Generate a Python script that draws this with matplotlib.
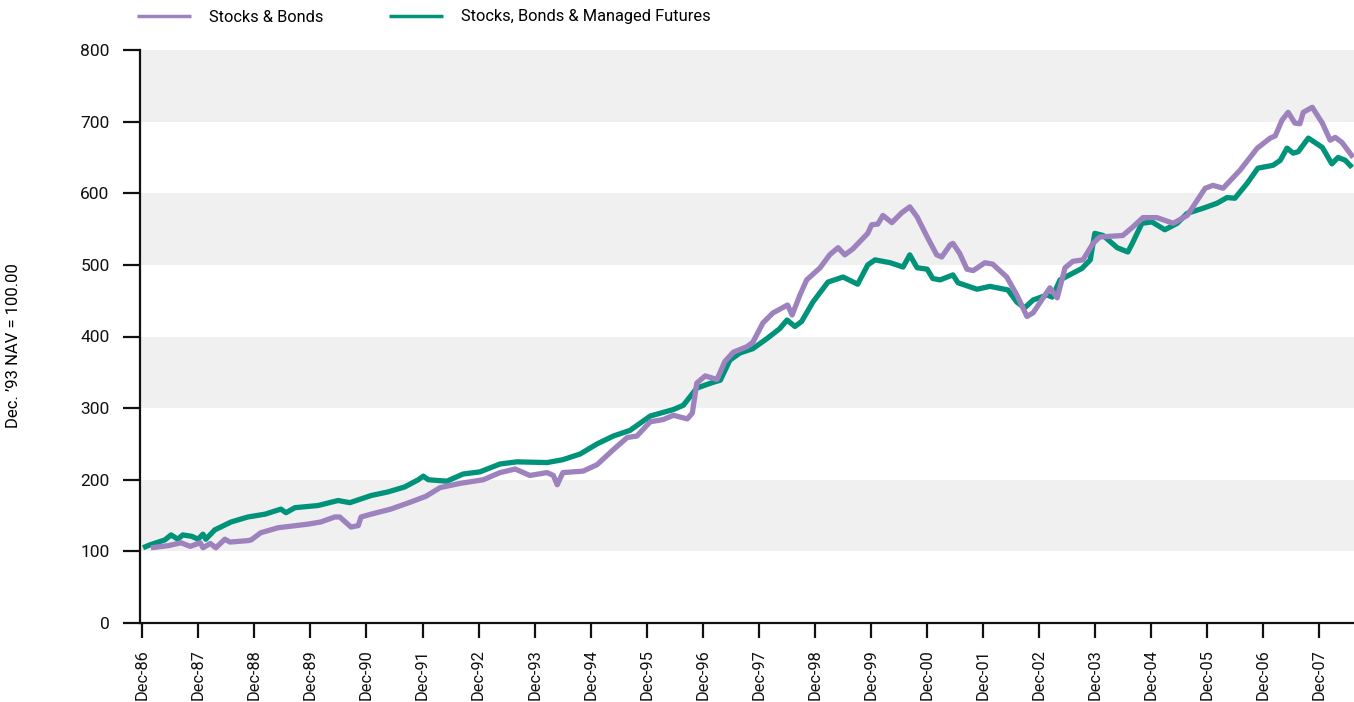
import matplotlib
matplotlib.use("Agg")
import matplotlib.pyplot as plt

# ---- data (decimal years, NAV values) ----
sb_years = [1987.07, 1987.38, 1987.61, 1987.77, 1987.95, 1988.00, 1988.13, 1988.23, 1988.39, 1988.48,
            1988.80, 1988.86, 1989.03, 1989.34, 1989.87, 1990.10, 1990.35, 1990.44, 1990.64, 1990.77,
            1990.82, 1991.00, 1991.35, 1991.71, 1991.98, 1992.23, 1992.59, 1993.00, 1993.30, 1993.57,
            1993.83, 1994.14, 1994.25, 1994.32, 1994.42, 1994.78, 1995.03, 1995.32, 1995.57, 1995.74,
            1995.98, 1996.21, 1996.39, 1996.64, 1996.73, 1996.81, 1996.96, 1997.17, 1997.31, 1997.46,
            1997.71, 1997.81, 1997.99, 1998.17, 1998.43, 1998.51, 1998.65, 1998.77, 1999.01, 1999.18,
            1999.33, 1999.45, 1999.59, 1999.86, 1999.93, 2000.04, 2000.13, 2000.29, 2000.47, 2000.61,
            2000.74, 2000.92, 2001.09, 2001.18, 2001.33, 2001.38, 2001.50, 2001.63, 2001.74, 2001.95,
            2002.09, 2002.34, 2002.52, 2002.70, 2002.81, 2003.11, 2003.24, 2003.38, 2003.52, 2003.70,
            2003.88, 2004.00, 2004.41, 2004.59, 2004.77, 2005.02, 2005.31, 2005.56, 2005.88, 2006.02,
            2006.20, 2006.50, 2006.81, 2007.04, 2007.13, 2007.25, 2007.36, 2007.48, 2007.57, 2007.63,
            2007.79, 2007.97, 2008.11, 2008.20, 2008.32, 2008.52]
sb_values = [105, 108, 112, 107, 112, 105, 111, 105, 117, 113,
             115, 116, 126, 133, 138, 141, 148, 148, 134, 136,
             148, 152, 159, 169, 177, 189, 195, 200, 210, 215,
             206, 210, 206, 193, 210, 212, 221, 242, 259, 261,
             281, 284, 290, 285, 293, 335, 345, 340, 365, 378,
             386, 392, 419, 433, 444, 430, 458, 479, 496, 514,
             524, 514, 522, 544, 556, 557, 569, 559, 573, 581,
             567, 539, 514, 511, 528, 530, 516, 494, 492, 503,
             501, 483, 458, 428, 433, 468, 454, 496, 505, 507,
             530, 539, 541, 553, 566, 566, 558, 569, 607, 611,
             607, 632, 663, 677, 680, 702, 713, 698, 697, 713,
             720, 698, 674, 678, 671, 650]

sbmf_years = [1986.93, 1987.05, 1987.32, 1987.43, 1987.55, 1987.64, 1987.80, 1987.91, 1988.00, 1988.05,
              1988.21, 1988.50, 1988.80, 1989.11, 1989.39, 1989.48, 1989.64, 1990.05, 1990.41, 1990.62,
              1991.00, 1991.30, 1991.60, 1991.84, 1991.93, 1992.02, 1992.35, 1992.64, 1992.94, 1993.30,
              1993.60, 1994.14, 1994.42, 1994.73, 1995.03, 1995.32, 1995.62, 1995.98, 1996.39, 1996.57,
              1996.81, 1997.10, 1997.23, 1997.40, 1997.58, 1997.81, 1998.06, 1998.29, 1998.42, 1998.56,
              1998.68, 1998.88, 1999.15, 1999.42, 1999.68, 1999.86, 1999.99, 2000.26, 2000.49, 2000.61,
              2000.74, 2000.92, 2001.02, 2001.15, 2001.38, 2001.47, 2001.81, 2002.04, 2002.36, 2002.52,
              2002.66, 2002.81, 2003.06, 2003.15, 2003.29, 2003.68, 2003.83, 2003.91, 2004.06, 2004.31,
              2004.50, 2004.58, 2004.75, 2004.93, 2005.16, 2005.38, 2005.56, 2005.84, 2006.09, 2006.27,
              2006.41, 2006.63, 2006.82, 2007.09, 2007.22, 2007.34, 2007.45, 2007.54, 2007.72, 2007.97,
              2008.14, 2008.25, 2008.38, 2008.50]
sbmf_values = [105, 109, 116, 123, 117, 123, 121, 117, 124, 117,
               130, 141, 148, 152, 159, 154, 161, 164, 171, 168,
               178, 183, 190, 200, 205, 200, 198, 208, 211, 222,
               225, 224, 228, 236, 250, 261, 269, 289, 298, 304,
               328, 336, 339, 367, 377, 383, 397, 411, 423, 414,
               421, 448, 476, 483, 473, 500, 507, 503, 497, 514,
               496, 494, 481, 479, 486, 475, 466, 470, 465, 448,
               440, 451, 458, 455, 479, 495, 507, 544, 541, 524,
               518, 530, 558, 560, 549, 558, 572, 579, 586, 594,
               593, 614, 635, 639, 646, 663, 656, 658, 677, 664,
               641, 650, 646, 636]

series_names = ["Stocks & Bonds", "Stocks, Bonds & Managed Futures"]
tick_labels = ["Dec-86", "Dec-87", "Dec-88", "Dec-89", "Dec-90", "Dec-91", "Dec-92", "Dec-93",
               "Dec-94", "Dec-95", "Dec-96", "Dec-97", "Dec-98", "Dec-99", "Dec-00", "Dec-01",
               "Dec-02", "Dec-03", "Dec-04", "Dec-05", "Dec-06", "Dec-07"]
y_ticks = [0, 100, 200, 300, 400, 500, 600, 700, 800]
y_label = "Dec. \u201993 NAV = 100.00"

PURPLE = "#9e82be"
GREEN = "#00937a"
BAND = "#f0f0f0"

plt.rcParams['font.family'] = ['Roboto', 'DejaVu Sans']

fig = plt.figure(figsize=(13.54, 7.02), dpi=100)
W, H = 1354, 702
ax = fig.add_axes([140 / W, (H - 623) / H, (W - 140) / W, (623 - 50) / H])

for lo in (100, 300, 500, 700):
    ax.axhspan(lo, lo + 100, color=BAND, lw=0, zorder=0)

ax.plot(sbmf_years, sbmf_values, color=GREEN, lw=3.8, solid_joinstyle='round',
        solid_capstyle='butt', label=series_names[1], zorder=3)
ax.plot(sb_years, sb_values, color=PURPLE, lw=3.8, solid_joinstyle='round',
        solid_capstyle='butt', label=series_names[0], zorder=4)

ax.set_xlim(1986.876, 2008.535)
ax.set_ylim(0, 800)
ax.set_yticks(y_ticks)
ax.set_yticklabels([str(v) for v in y_ticks], fontsize=12.5)
xt = [1986 + 11 / 12 + i for i in range(len(tick_labels))]
ax.set_xticks(xt)
ax.set_xticklabels(tick_labels, rotation=90, fontsize=11.8)

for s in ("top", "right"):
    ax.spines[s].set_visible(False)
for s in ("left", "bottom"):
    ax.spines[s].set_linewidth(1.6)
    ax.spines[s].set_color("#111111")
ax.tick_params(axis='y', length=12, width=1.6, pad=10, colors="#111111")
ax.tick_params(axis='x', length=11, width=1.6, pad=8, colors="#111111")

fig.text(14 / W, 1 - 346 / H, y_label, rotation=90, ha='center', va='center', fontsize=12)

handles, labels = ax.get_legend_handles_labels()
order = [1, 0]
leg = fig.legend([handles[i] for i in order], [labels[i] for i in order],
                 loc='center left', bbox_to_anchor=(137 / W, 1 - 17 / H), ncol=2,
                 frameon=False, fontsize=11.8, handlelength=3.3, handletextpad=1.1,
                 columnspacing=4.0, borderpad=0, borderaxespad=0)
for line in leg.get_lines():
    line.set_linewidth(2.5)

fig.savefig("out.png", dpi=100)
